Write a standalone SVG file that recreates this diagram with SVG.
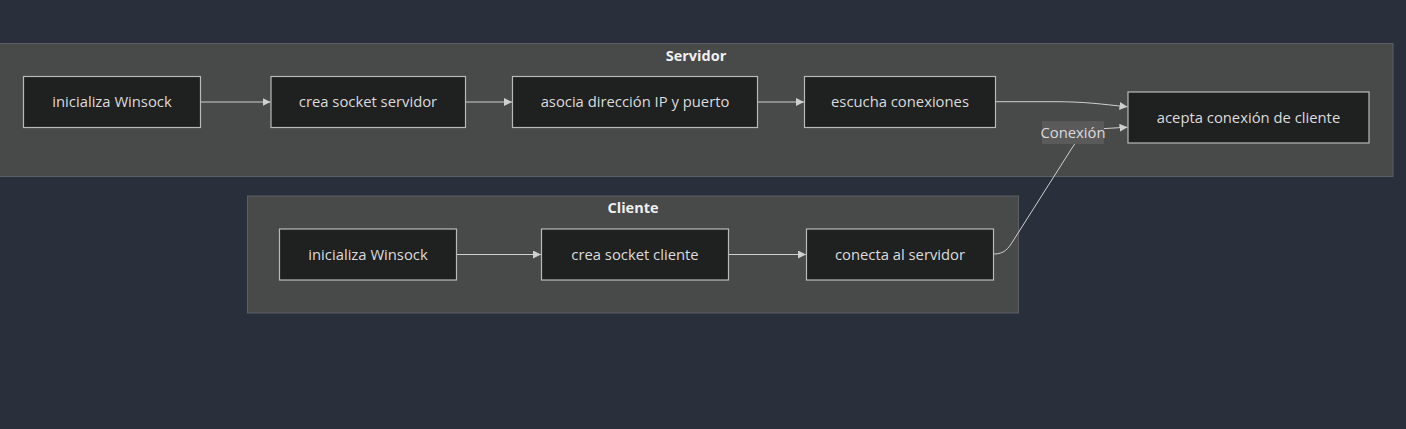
<svg xmlns="http://www.w3.org/2000/svg" width="1406" height="429" viewBox="0 0 1406 429">
<style>
.bg{fill:#2a2f3c}
.cluster{fill:#484949;stroke:#5c6066;stroke-width:1}
.ctitle{font-family:"Open Sans","DejaVu Sans",sans-serif;font-size:14.5px;font-weight:bold;fill:#f0f0f0;text-anchor:middle}
.node rect{fill:#1f2020;stroke:#b9b9b9;stroke-width:1.2}
.node text{font-family:"Open Sans","DejaVu Sans",sans-serif;font-size:14.8px;fill:#dcdcdc;text-anchor:middle}
.edge{fill:none;stroke:#cfcfcf;stroke-width:1}
.elbl rect{fill:#5a5a5a}
.elbl text{font-family:"Open Sans","DejaVu Sans",sans-serif;font-size:14.8px;fill:#dcdcdc;text-anchor:middle}
</style>
<defs>
<marker id="arr" viewBox="0 0 10 10" refX="10" refY="5" markerWidth="8" markerHeight="8" markerUnits="userSpaceOnUse" orient="auto">
<path d="M0,0 L10,5 L0,10 z" fill="#cfcfcf"/>
</marker>
</defs>
<rect class="bg" x="0" y="0" width="1406" height="429"/>
<g id="cluster-servidor">
<rect class="cluster" x="-1" y="43.5" width="1394" height="133"/>
<text class="ctitle" x="696" y="61">Servidor</text>
</g>
<g id="cluster-cliente">
<rect class="cluster" x="247.5" y="196" width="771" height="117"/>
<text class="ctitle" x="633" y="213">Cliente</text>
</g>
<g id="connectors">
<path class="edge" d="M200.5,102 L270.5,102" marker-end="url(#arr)"/>
<path class="edge" d="M465.5,102 L512,102" marker-end="url(#arr)"/>
<path class="edge" d="M757.5,102 L804,102" marker-end="url(#arr)"/>
<path class="edge" d="M995.5,101.7 L1055,101.7 C1085,101.7 1100,104 1127.5,106.8" marker-end="url(#arr)"/>
<path class="edge" d="M456.7,254.5 L541,254.5" marker-end="url(#arr)"/>
<path class="edge" d="M728.5,254.5 L806,254.5" marker-end="url(#arr)"/>
<path class="edge" d="M994,254 C1004,254 1008,249 1013,241 L1072,148 C1080,135 1090,129 1104,128.6 L1127.5,127.2" marker-end="url(#arr)"/>
</g>
<g id="label-conexion" class="elbl">
<rect x="1042" y="121" width="62" height="23"/>
<text x="1073" y="137.5">Conexión</text>
</g>
<g id="n-srv-init" class="node">
<rect x="23.5" y="76.5" width="177" height="51"/>
<text x="112" y="107">inicializa Winsock</text>
</g>
<g id="n-srv-socket" class="node">
<rect x="271" y="76.5" width="194.5" height="51"/>
<text x="368" y="107">crea socket servidor</text>
</g>
<g id="n-srv-bind" class="node">
<rect x="512.5" y="76.5" width="245" height="51"/>
<text x="635" y="107">asocia dirección IP y puerto</text>
</g>
<g id="n-srv-listen" class="node">
<rect x="804.5" y="76.5" width="191" height="51"/>
<text x="900" y="107">escucha conexiones</text>
</g>
<g id="n-srv-accept" class="node">
<rect x="1128" y="92" width="241" height="51"/>
<text x="1248.5" y="122.5">acepta conexión de cliente</text>
</g>
<g id="n-cli-init" class="node">
<rect x="279.5" y="229" width="177" height="51"/>
<text x="368" y="259.5">inicializa Winsock</text>
</g>
<g id="n-cli-socket" class="node">
<rect x="541.5" y="229" width="187" height="51"/>
<text x="635" y="259.5">crea socket cliente</text>
</g>
<g id="n-cli-connect" class="node">
<rect x="806.5" y="229" width="187" height="51"/>
<text x="900" y="259.5">conecta al servidor</text>
</g>
</svg>
